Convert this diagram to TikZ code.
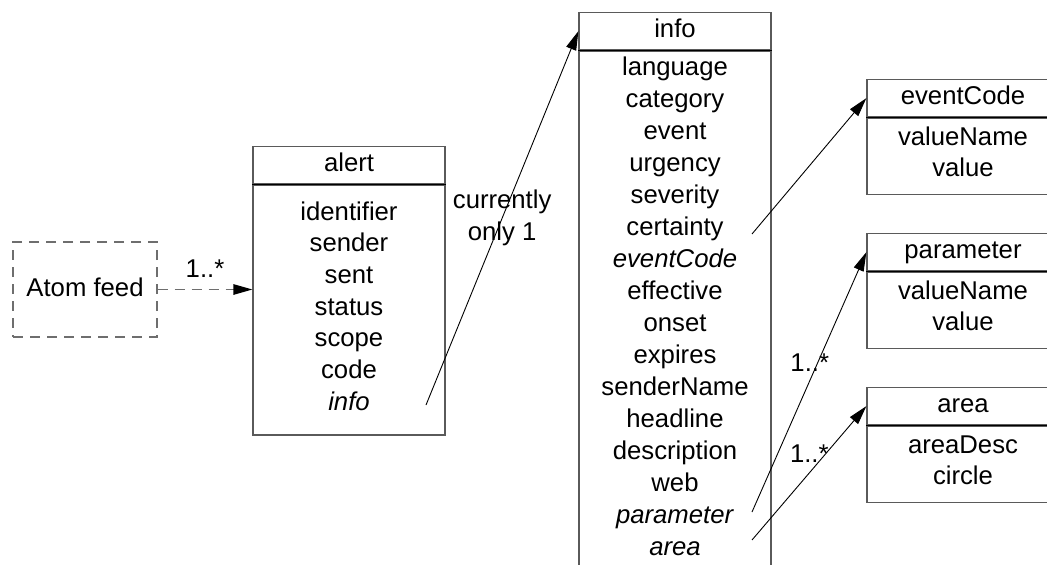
\documentclass[tikz,border=0pt]{standalone}
\usepackage{fontspec}
\setmainfont{Liberation Sans}
\usetikzlibrary{arrows.meta}
\definecolor{boxgray}{RGB}{90,90,90}
\definecolor{dashgray}{RGB}{110,110,110}

\begin{document}
\begin{tikzpicture}[x=1pt,y=-1pt,
    every node/.style={font=\fontsize{25.7}{32}\selectfont, inner sep=0pt},
    classhead/.style={draw=boxgray, line width=1.3pt, minimum width=192pt,
      minimum height=37pt, text height=18pt, text depth=5pt, anchor=north},
    classbody/.style={draw=boxgray, line width=1.3pt, minimum width=192pt, anchor=north},
    sepline/.style={black, line width=1pt},
    attr/.style={anchor=base},
    feedbox/.style={draw=dashgray, line width=1.3pt, dash pattern=on 10pt off 7pt,
      minimum width=144pt, minimum height=95pt, text height=18pt, text depth=5pt},
    assoc/.style={line width=0.9pt, -{Triangle[length=19pt,width=10.5pt]}},
    dasharrow/.style={dashgray, line width=1.3pt, dash pattern=on 10pt off 7pt,
      -{Triangle[length=19pt,width=10.5pt,color=black]}},
    mult/.style={anchor=base, text=black},
    note/.style={align=center}]
    \useasboundingbox (0,0) rectangle (1047,565);
    \clip (0,0) rectangle (1047,565);

    % source
    \node[feedbox] (feed) at (85,289.5) {Atom feed};

    % alert
    \node[classhead] (alert) at (349,146) {alert};
    \node[classbody, minimum height=250pt] (alert-body) at (alert.south) {};
    \draw[sepline] (alert.south west) -- (alert.south east);
    \foreach \a [count=\i] in {identifier,sender,sent,status,scope,code,\textit{info}}
      \node[attr] (alert-\i) at (349,{188.3+31.7*\i}) {\a};

    % info
    \node[classhead] (info) at (675,12) {info};
    \node[classbody, minimum height=540pt] (info-body) at (info.south) {};
    \draw[sepline] (info.south west) -- (info.south east);
    \foreach \a [count=\i] in {language,category,event,urgency,severity,certainty,
        \textit{eventCode},effective,onset,expires,senderName,headline,description,
        web,\textit{parameter},\textit{area}}
      \node[attr] (info-\i) at (675,{43+32*\i}) {\a};

    % eventCode, parameter, area
    \foreach \name/\top/\first/\second in {eventCode/79/valueName/value,
        parameter/233/valueName/value, area/387/areaDesc/circle} {
      \node[classhead] (\name) at (963,\top) {\name};
      \node[classbody, minimum height=76.5pt] (\name-body) at (\name.south) {};
      \draw[sepline] (\name.south west) -- (\name.south east);
      \node[attr] (\name-1) at (963,{\top+66}) {\first};
      \node[attr] (\name-2) at (963,{\top+97.7}) {\second};
    }

    % connectors
    \coordinate (alertinfo) at (426,405);
    \coordinate (infocode) at (752,234);
    \coordinate (infoparam) at (752,512);
    \coordinate (infoarea) at (752,540);
    \draw[dasharrow] (feed.east) -- node[mult, yshift=12pt] {1..*} (feed.east -| alert-body.west);
    \draw[assoc] (alertinfo) -- node[note] {currently\\only 1} (info.west);
    \draw[assoc] (infocode) -- (eventCode.west);
    \draw[assoc] (infoparam) -- node[mult, pos=0.54, xshift=-4pt] {1..*} (parameter.west);
    \draw[assoc] (infoarea) -- node[mult, pos=0.58, xshift=-9pt] {1..*} (area.west);
\end{tikzpicture}
\end{document}
